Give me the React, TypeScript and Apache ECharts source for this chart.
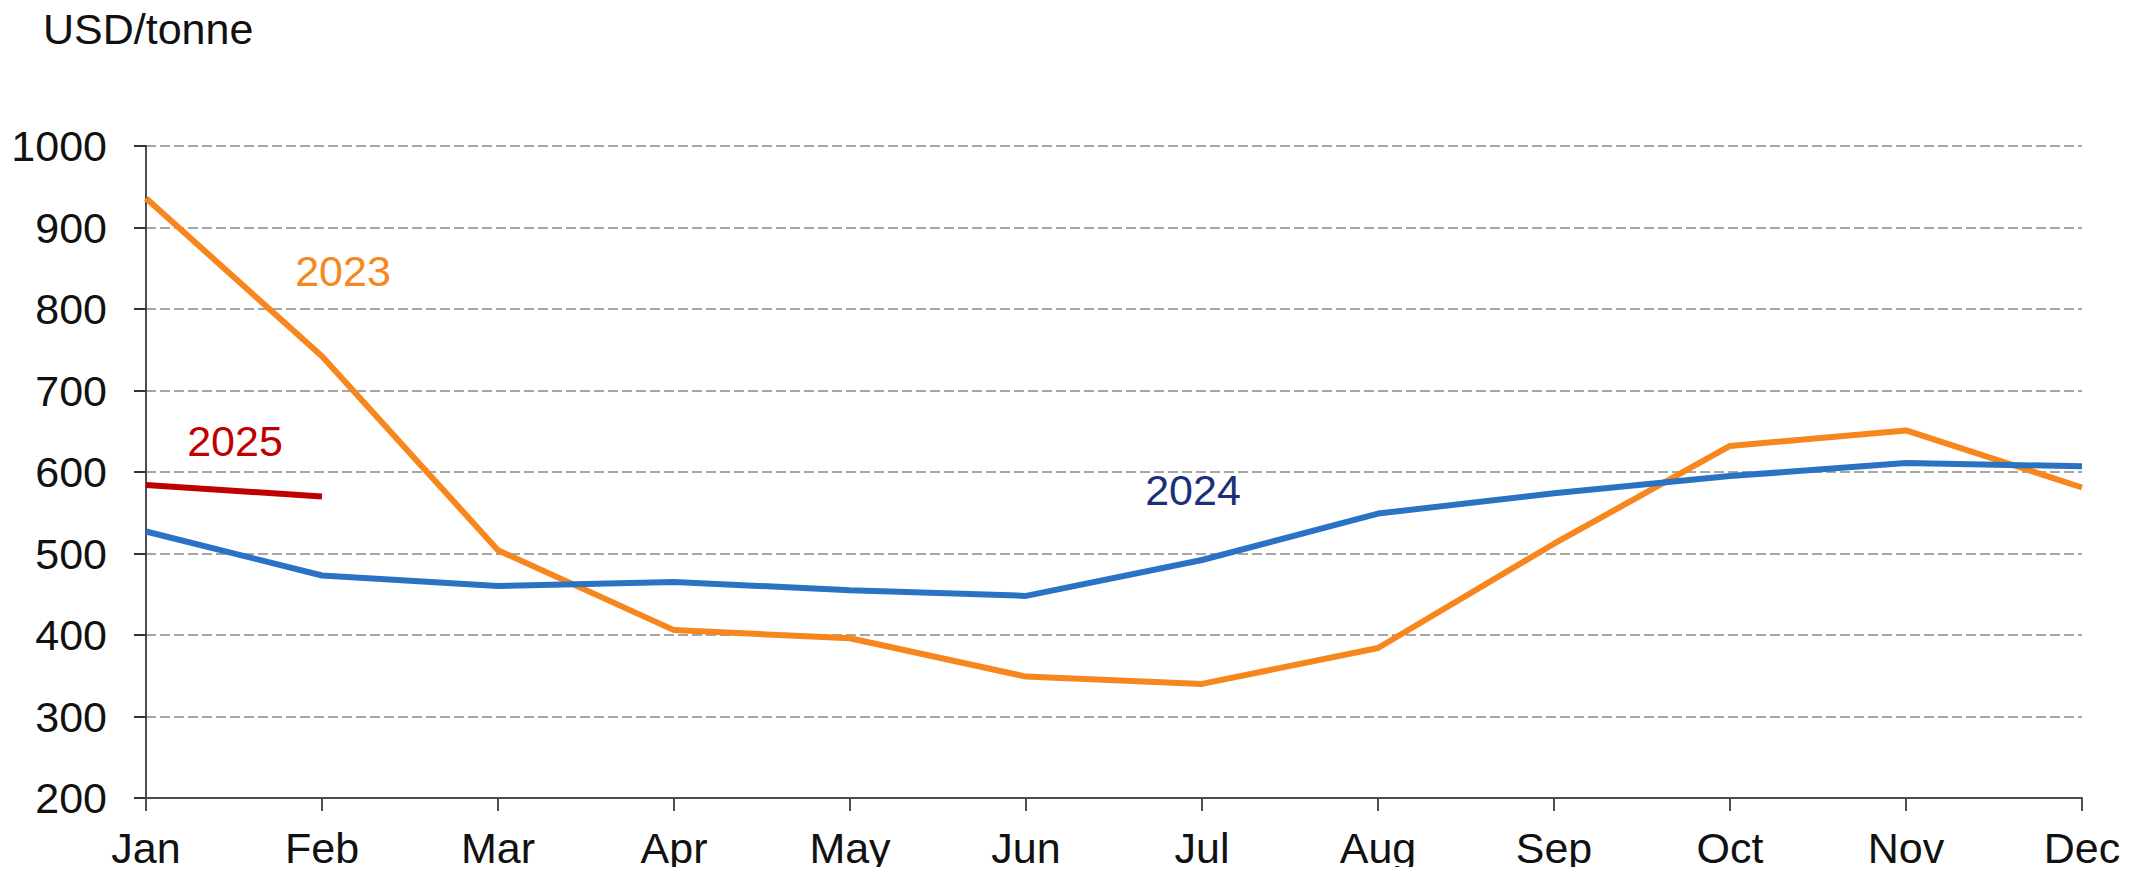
import React, { useEffect, useRef } from "react";
import * as echarts from "echarts";

const months = ["Jan", "Feb", "Mar", "Apr", "May", "Jun", "Jul", "Aug", "Sep", "Oct", "Nov", "Dec"];
const series2023 = [936, 742, 504, 406, 396, 349, 340, 384, 512, 632, 651, 581];
const series2024 = [527, 473, 460, 465, 455, 448, 492, 549, 574, 595, 611, 607];
const series2025 = [584, 570];
const yTicks = { min: 200, max: 1000, interval: 100 };

const FONT = "Liberation Sans, Arial, sans-serif";
const FS = 43;

export default function App() {
  const ref = useRef<HTMLDivElement>(null);
  useEffect(() => {
    if (!ref.current) return;
    const chart = echarts.init(ref.current, null, { renderer: "svg" });
    chart.setOption({
      animation: false,
      backgroundColor: "#ffffff",
      textStyle: { fontFamily: FONT },
      grid: { left: 146, right: 49, top: 146, bottom: 77, containLabel: false },
      xAxis: {
        type: "category",
        data: months,
        boundaryGap: false,
        axisLine: { lineStyle: { color: "#4d4d4d", width: 2 } },
        axisTick: { show: true, length: 13, inside: false, lineStyle: { color: "#4d4d4d", width: 2 } },
        axisLabel: { color: "#111", fontSize: FS, margin: 28, fontFamily: FONT },
        splitLine: { show: false },
      },
      yAxis: {
        type: "value",
        min: yTicks.min,
        max: yTicks.max,
        interval: yTicks.interval,
        axisLine: { show: true, lineStyle: { color: "#4d4d4d", width: 2 } },
        axisTick: { show: true, length: 12, lineStyle: { color: "#333", width: 2 } },
        axisLabel: {
          color: "#111",
          fontSize: FS,
          margin: 39,
          fontFamily: FONT,
          formatter: (v: number) => String(v),
        },
        splitLine: {
          show: true,
          lineStyle: { color: "#a6a6a6", width: 2, type: [10, 4] },
        },
      },
      series: [
        {
          name: "2023",
          type: "line",
          data: series2023,
          symbol: "none",
          lineStyle: { color: "#F7861C", width: 6 },
          z: 3,
        },
        {
          name: "2024",
          type: "line",
          data: series2024,
          symbol: "none",
          lineStyle: { color: "#2A72C4", width: 6 },
          z: 4,
        },
        {
          name: "2025",
          type: "line",
          data: series2025,
          symbol: "none",
          lineStyle: { color: "#C00000", width: 6 },
          z: 5,
        },
      ],
      graphic: [
        {
          type: "text",
          left: 43,
          top: 7,
          style: { text: "USD/tonne", fontSize: FS, fill: "#111", fontFamily: FONT },
        },
        {
          type: "text",
          x: 343,
          y: 271,
          style: { text: "2023", fontSize: FS, fill: "#F7861C", fontFamily: FONT, align: "center", verticalAlign: "middle" },
        },
        {
          type: "text",
          x: 235,
          y: 441,
          style: { text: "2025", fontSize: FS, fill: "#C00000", fontFamily: FONT, align: "center", verticalAlign: "middle" },
        },
        {
          type: "text",
          x: 1193,
          y: 490,
          style: { text: "2024", fontSize: FS, fill: "#1B2F7A", fontFamily: FONT, align: "center", verticalAlign: "middle" },
        },
      ],
    });
    return () => chart.dispose();
  }, []);
  return <div ref={ref} style={{ width: 2131, height: 875, margin: -8 }} />;
}
